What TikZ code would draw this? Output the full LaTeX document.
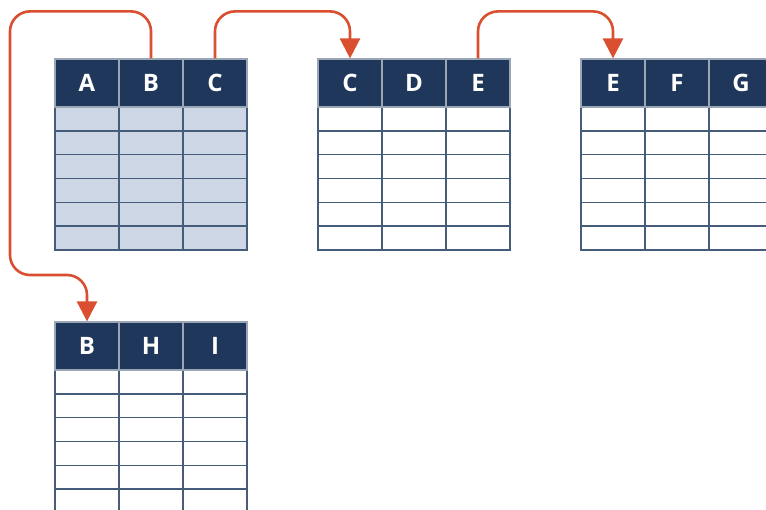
\documentclass[tikz,border=0pt]{standalone}
\usepackage{fontspec}
\setmainfont{Open Sans}
\usetikzlibrary{arrows.meta}
\definecolor{navy}{HTML}{1F375A}
\definecolor{bodyfill}{HTML}{CDD6E4}
\definecolor{gridc}{HTML}{465C7B}
\definecolor{hdrline}{HTML}{9AA5B5}
\definecolor{redc}{HTML}{D94F30}
\tikzset{
  hdr/.style={fill=navy, draw=hdrline, line width=1.2pt, minimum width=64pt, minimum height=48pt, inner sep=0pt, text=white, font=\fontsize{24}{24}\selectfont\bfseries},
  gridline/.style={draw=gridc, line width=1.6pt},
  link/.style={draw=redc, line width=2.6pt, rounded corners=20pt, -{Triangle[width=20pt,length=20pt]}}
}
\newcommand\mktable[7]{%
  \fill[#4] (#2,#3+48) rectangle ++(192,143);
  \foreach \i in {1,...,5} \draw[gridline] (#2,#3+48+\i*23.83) -- ++(192,0);
  \draw[gridline] (#2+64,#3+48) -- ++(0,143);
  \draw[gridline] (#2+128,#3+48) -- ++(0,143);
  \draw[gridline] (#2,#3+48) rectangle ++(192,143);
  \node[hdr] (#1#5) at (#2+32,#3+24) {#5};
  \node[hdr] (#1#6) at (#2+96,#3+24) {#6};
  \node[hdr] (#1#7) at (#2+160,#3+24) {#7};
}
\begin{document}
\begin{tikzpicture}[x=1pt,y=-1pt]
\useasboundingbox (0,0) rectangle (766,510);
\clip (0,0) rectangle (766,510);
\mktable{ta}{55}{59}{bodyfill}{A}{B}{C}
\mktable{tb}{318}{59}{white}{C}{D}{E}
\mktable{tc}{581}{59}{white}{E}{F}{G}
\mktable{td}{55}{322}{white}{B}{H}{I}
\coordinate (loop) at (10,275);
\draw[link] (taB.north) -- ++(0,-47) -| (loop) -| (tdB.north);
\draw[link] (taC.north) -- ++(0,-47) -| (tbC.north);
\draw[link] (tbE.north) -- ++(0,-47) -| (tcE.north);
\end{tikzpicture}
\end{document}
